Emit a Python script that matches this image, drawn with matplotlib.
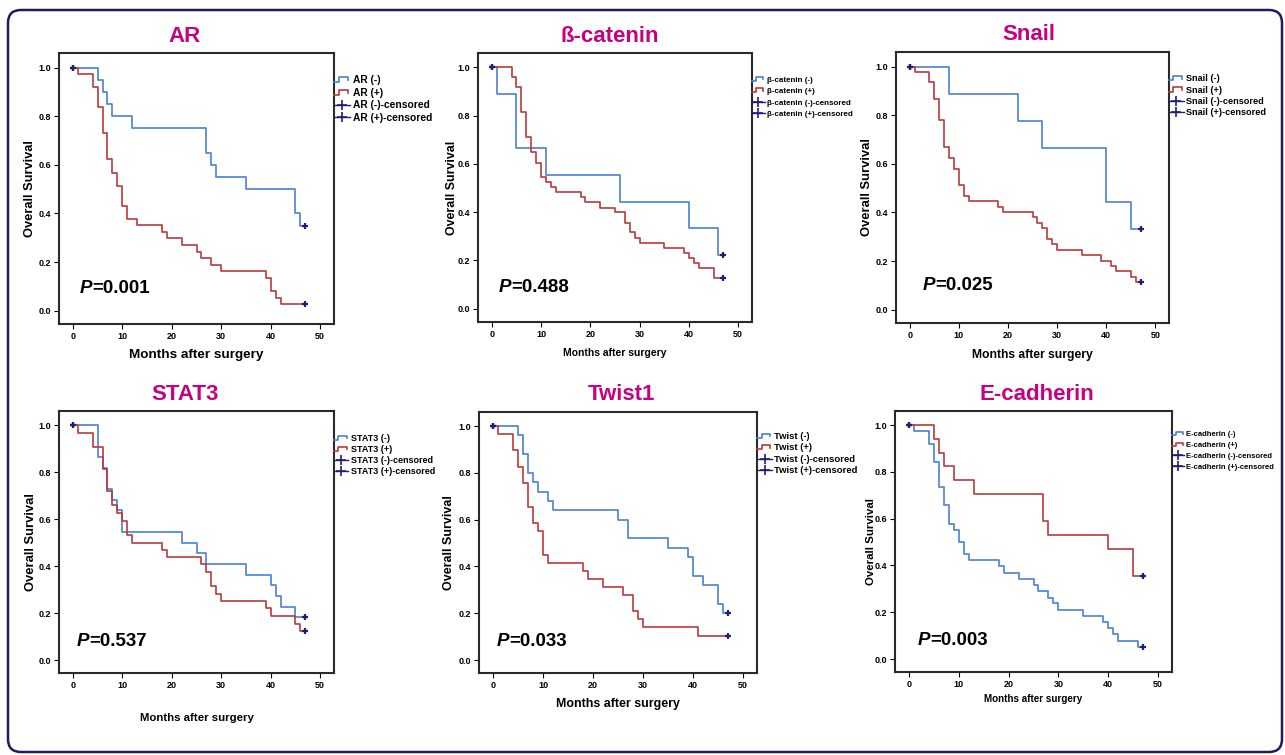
# Kaplan-Meier panels: overall survival by marker status

import matplotlib
matplotlib.use("Agg")
import matplotlib.pyplot as plt
from matplotlib.lines import Line2D
from matplotlib.legend_handler import HandlerBase
from matplotlib.patches import FancyBboxPatch
from matplotlib.transforms import IdentityTransform

plt.rcParams["font.family"] = ["Liberation Sans", "DejaVu Sans"]

BLUE = "#4a7fd6"
RED = "#b83a3c"
NAVY = "#1f1f78"
MAGENTA = "#c6007e"

FOLLOW_UP = 47
X_TICKS = [0, 10, 20, 30, 40, 50]
Y_TICKS = [0.0, 0.2, 0.4, 0.6, 0.8, 1.0]

# event times (months) and survival after each drop
ar_neg_t = [5, 6, 7, 8, 12, 27, 28, 29, 35, 45, 46]
ar_neg_s = [0.95, 0.90, 0.85, 0.80, 0.75, 0.65, 0.60, 0.55, 0.50, 0.40, 0.35]
ar_pos_t = [1, 4, 5, 6, 7, 8, 9, 10, 11, 13, 18, 19, 22, 25, 26, 28, 30, 39, 40, 41, 42]
ar_pos_s = [0.973, 0.919, 0.838, 0.730, 0.622, 0.568, 0.514, 0.432, 0.378, 0.351, 0.324,
            0.297, 0.270, 0.243, 0.216, 0.189, 0.162, 0.135, 0.081, 0.054, 0.027]

bcat_neg_t = [1, 5, 11, 26, 40, 46]
bcat_neg_s = [0.889, 0.667, 0.556, 0.444, 0.333, 0.222]
bcat_pos_t = [4, 5, 6, 7, 8, 9, 10, 11, 12, 13, 18, 19, 22, 25, 27, 28, 29, 30, 35, 39, 40, 41, 42, 45]
bcat_pos_s = [0.959, 0.919, 0.814, 0.710, 0.650, 0.606, 0.545, 0.526, 0.505, 0.484, 0.463, 0.443,
              0.418, 0.400, 0.356, 0.317, 0.295, 0.273, 0.252, 0.232, 0.211, 0.190, 0.170, 0.128]

snail_neg_t = [8, 22, 27, 40, 45]
snail_neg_s = [0.889, 0.778, 0.667, 0.444, 0.333]
snail_pos_t = [1, 4, 5, 6, 7, 8, 9, 10, 11, 12, 18, 19, 25, 26, 27, 28, 29, 30, 35, 39, 41, 42, 45, 46]
snail_pos_s = [0.978, 0.935, 0.866, 0.779, 0.669, 0.624, 0.579, 0.512, 0.469, 0.447, 0.424, 0.402,
               0.380, 0.357, 0.335, 0.290, 0.268, 0.247, 0.225, 0.202, 0.180, 0.158, 0.135, 0.113]

stat3_neg_t = [5, 6, 7, 8, 9, 10, 22, 25, 27, 35, 40, 41, 42, 45]
stat3_neg_s = [0.863, 0.818, 0.727, 0.682, 0.637, 0.545, 0.500, 0.455, 0.410, 0.364, 0.318, 0.273, 0.227, 0.182]
stat3_pos_t = [1, 4, 6, 7, 8, 9, 10, 11, 12, 18, 19, 26, 27, 28, 29, 30, 39, 40, 45, 46]
stat3_pos_s = [0.968, 0.905, 0.812, 0.720, 0.658, 0.627, 0.593, 0.532, 0.500, 0.469,
               0.438, 0.407, 0.376, 0.314, 0.282, 0.251, 0.220, 0.186, 0.155, 0.124]

twist_neg_t = [5, 6, 7, 8, 9, 11, 12, 25, 27, 35, 39, 40, 42, 45, 46]
twist_neg_s = [0.96, 0.88, 0.80, 0.76, 0.72, 0.68, 0.64, 0.60, 0.52, 0.48, 0.44, 0.36, 0.32, 0.24, 0.20]
twist_pos_t = [1, 4, 5, 6, 7, 8, 9, 10, 11, 18, 19, 22, 26, 28, 29, 30, 41]
twist_pos_s = [0.966, 0.897, 0.827, 0.758, 0.656, 0.587, 0.553, 0.451, 0.416, 0.382,
               0.347, 0.313, 0.279, 0.209, 0.175, 0.141, 0.104]

ecad_neg_t = [1, 4, 5, 6, 7, 8, 9, 10, 11, 12, 18, 19, 22, 25, 26, 28, 29, 30, 35, 39, 40, 41, 42, 46]
ecad_neg_s = [0.974, 0.921, 0.843, 0.737, 0.659, 0.579, 0.552, 0.501, 0.449, 0.422, 0.397, 0.370,
              0.344, 0.317, 0.292, 0.263, 0.238, 0.212, 0.186, 0.159, 0.133, 0.106, 0.079, 0.052]
ecad_pos_t = [5, 6, 7, 9, 13, 27, 28, 40, 45]
ecad_pos_s = [0.94, 0.882, 0.823, 0.765, 0.705, 0.588, 0.530, 0.470, 0.353]

titles = ["AR", "ß-catenin", "Snail", "STAT3", "Twist1", "E-cadherin"]
legend_names = ["AR", "β-catenin", "Snail", "STAT3", "Twist", "E-cadherin"]
p_values = ["0.001", "0.488", "0.025", "0.537", "0.033", "0.003"]

curves = [
    (ar_neg_t, ar_neg_s, ar_pos_t, ar_pos_s),
    (bcat_neg_t, bcat_neg_s, bcat_pos_t, bcat_pos_s),
    (snail_neg_t, snail_neg_s, snail_pos_t, snail_pos_s),
    (stat3_neg_t, stat3_neg_s, stat3_pos_t, stat3_pos_s),
    (twist_neg_t, twist_neg_s, twist_pos_t, twist_pos_s),
    (ecad_neg_t, ecad_neg_s, ecad_pos_t, ecad_pos_s),
]

# layout in pixels: left, top, right, bottom of each plot box
boxes = [
    (59, 53, 334, 324), (478, 53, 752, 322), (896, 52, 1169, 323),
    (59, 411, 334, 673), (479, 412, 757, 673), (895, 411, 1172, 672),
]
title_x = [0.455, 0.482, 0.487, 0.458, 0.511, 0.513]
xlabel_drop = [0.093, 0.098, 0.096, 0.152, 0.096, 0.085]
xlabel_size = [9.7, 7.5, 8.7, 8.2, 8.9, 7.1]
ylabel_size = [9.3, 8.9, 9.4, 9.4, 9.0, 8.2]
ylabel_gap = [23, 20, 23, 22, 24, 19]
legend_size = [7.4, 5.8, 6.6, 6.45, 6.8, 5.5]
legend_gap = [0.25, 0.48, 0.25, 0.25, 0.25, 0.47]
legend_top = [0.918, 0.915, 0.918, 0.914, 0.923, 0.925]
p_pos = [(1.4, 0.09), (1.4, 0.087), (2.6, 0.10), (0.8, 0.08), (0.8, 0.08), (1.8, 0.08)]

W, H = 1285, 755


class StepHandler(HandlerBase):
    def create_artists(self, legend, orig_handle, xdescent, ydescent,
                       width, height, fontsize, trans):
        xs = [-xdescent + width * f for f in (0.0, 0.3, 0.3, 0.88, 0.88)]
        ys = [-ydescent + height * f for f in (0.15, 0.15, 0.8, 0.8, 0.4)]
        ln = Line2D(xs, ys, color=orig_handle.get_color(), lw=1.2)
        ln.set_transform(trans)
        return [ln]


def km_steps(times, surv):
    xs = [0] + list(times) + [FOLLOW_UP]
    ys = [1.0] + list(surv) + [surv[-1]]
    return xs, ys


fig = plt.figure(figsize=(W / 100, H / 100), dpi=100)

for i in range(6):
    l, t, r, b = boxes[i]
    ax = fig.add_axes([l / W, (H - b) / H, (r - l) / W, (b - t) / H])
    neg_t, neg_s, pos_t, pos_s = curves[i]

    xs, ys = km_steps(neg_t, neg_s)
    ax.step(xs, ys, where="post", color=BLUE, lw=1.2)
    xs, ys = km_steps(pos_t, pos_s)
    ax.step(xs, ys, where="post", color=RED, lw=1.2)

    ax.plot([0, FOLLOW_UP], [1.0, neg_s[-1]], ls="none", marker="+",
            color=NAVY, ms=5, mew=1.6, zorder=5)
    ax.plot([0, FOLLOW_UP], [1.0, pos_s[-1]], ls="none", marker="+",
            color=NAVY, ms=5, mew=1.6, zorder=5)

    ax.set_xlim(-2.8, 52.8)
    ax.set_ylim(-0.055, 1.06)
    ax.set_xticks(X_TICKS)
    ax.set_xticklabels([str(v) for v in X_TICKS], fontweight="bold")
    ax.set_yticks(Y_TICKS)
    ax.set_yticklabels(["%.1f" % v for v in Y_TICKS], fontweight="bold")
    ax.tick_params(direction="out", length=3.5, width=0.8, labelsize=6.5, pad=2)
    for sp in ax.spines.values():
        sp.set_linewidth(1.5)
        sp.set_color("#2a2a2a")

    ax.set_ylabel("Overall Survival", fontsize=ylabel_size[i], fontweight="bold")
    ax.yaxis.set_label_coords(-ylabel_gap[i] / (r - l), 0.5)
    ax.set_xlabel("Months after surgery", fontsize=xlabel_size[i], fontweight="bold")
    ax.xaxis.set_label_coords(0.5, -xlabel_drop[i])

    ax.text(title_x[i], 1 + 17 / (b - t), titles[i], transform=ax.transAxes,
            ha="center", va="center", fontsize=16, fontweight="bold", color=MAGENTA)

    px, py = p_pos[i]
    pt = ax.text(px, py, "P", fontsize=13.5, fontweight="bold", style="italic",
                 va="center", ha="left")
    ax.annotate("=" + p_values[i], xy=(1.0, 0.5), xycoords=pt, va="center",
                ha="left", fontsize=13.5, fontweight="bold")

    name = legend_names[i]
    h_neg = Line2D([], [], color=BLUE)
    h_pos = Line2D([], [], color=RED)
    h_c1 = Line2D([], [], color=NAVY, marker="+", ms=7, mew=1.2, lw=1.0)
    h_c2 = Line2D([], [], color=NAVY, marker="+", ms=7, mew=1.2, lw=1.0)
    ax.legend([h_neg, h_pos, h_c1, h_c2],
              [f"{name} (-)", f"{name} (+)", f"{name} (-)-censored", f"{name} (+)-censored"],
              handler_map={h_neg: StepHandler(), h_pos: StepHandler()},
              loc="upper left", bbox_to_anchor=(1.0, legend_top[i]), frameon=False,
              borderaxespad=0, borderpad=0, handlelength=1.6, handletextpad=0.25,
              labelspacing=legend_gap[i], numpoints=1,
              prop={"weight": "bold", "size": legend_size[i]})

border = FancyBboxPatch((8, 3), 1274, 742, boxstyle="round,pad=0,rounding_size=13",
                        transform=IdentityTransform(), fill=False,
                        edgecolor="#1c1c62", linewidth=1.8)
fig.patches.append(border)

fig.savefig("out.png", dpi=100)
